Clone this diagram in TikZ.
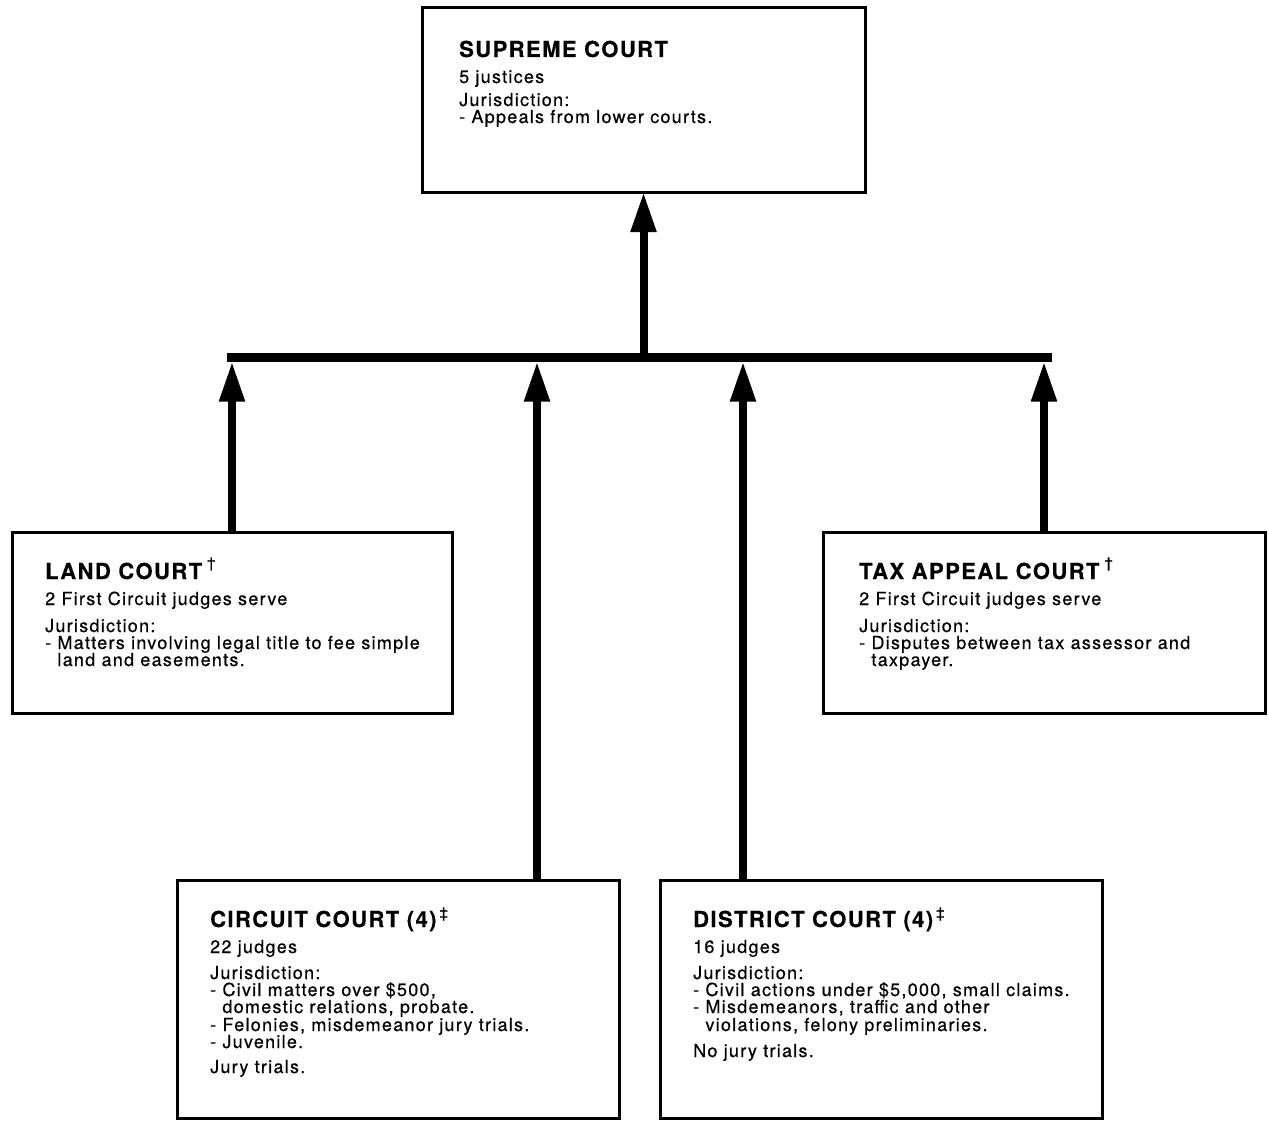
\documentclass[tikz,border=0pt]{standalone}
\usepackage{fontspec}
\setmainfont{TeX Gyre Heros}[LetterSpace=7, FakeBold=0.5, BoldFeatures={LetterSpace=6.5, FakeBold=0.3}]
\usetikzlibrary{arrows.meta}
\newcommand\courtline[4]{\node[txt] (#1) at (#2,#3) {#4};}
\newcommand\courttitle[4]{\node[ttl] (#1) at (#2,#3) {#4};}
\newcommand\dg{\hspace{5pt}\raisebox{11pt}{\fontsize{15}{15}\selectfont\mdseries †}}
\newcommand\ddg{\hspace{3pt}\raisebox{9pt}{\fontsize{15}{15}\selectfont\mdseries ‡}}
\newcommand\ind{\phantom{-}\ }
\tikzset{
  box/.style={draw, line width=3pt, inner sep=0pt, outer sep=0pt},
  txt/.style={anchor=base west, inner sep=0pt, font=\fontsize{18}{18}\selectfont},
  ttl/.style={anchor=base west, inner sep=0pt, font=\fontsize{22}{24}\selectfont\bfseries},
  up/.style={line width=8pt, -{Triangle[length=40pt,width=24pt]}},
  barline/.style={line width=9pt}
}
\begin{document}
\begin{tikzpicture}[x=1pt,y=-1pt]
\useasboundingbox (0,0) rectangle (1269,1121);
% boxes
\node[box, minimum width=443pt, minimum height=184pt] (sup) at (643.5,100) {};
\node[box, minimum width=440pt, minimum height=181pt] (land) at (232,622.5) {};
\node[box, minimum width=442pt, minimum height=181pt] (tax) at (1044,622.5) {};
\node[box, minimum width=442pt, minimum height=238pt] (circ) at (398,999) {};
\node[box, minimum width=442pt, minimum height=238pt] (dist) at (881,999) {};
% bar and connectors
\coordinate (barL) at (227,357);
\coordinate (barR) at (1052,357);
\coordinate (barT) at (643.5,354);
\coordinate (barB) at (643,361.5);
\draw[barline] (barL) -- (barR);
\draw[up] (barT) -- (sup.south);
\draw[up] (land.north) -- (land.north |- barB);
\draw[up] ([xshift=139pt]circ.north) -- ([xshift=139pt]circ.north |- barB);
\draw[up] ([xshift=-138pt]dist.north) -- ([xshift=-138pt]dist.north |- barB);
\draw[up] (tax.north) -- (tax.north |- barB);
% supreme court text
\courttitle{supT}{459}{57}{SUPREME COURT}
\courtline{sup1}{459}{83}{5 justices}
\courtline{sup2}{459}{106}{Jurisdiction:}
\courtline{sup3}{459}{123}{- Appeals from lower courts.}
% land court text
\courttitle{landT}{45}{579}{LAND COURT\dg}
\courtline{land1}{45}{605}{2 First Circuit judges serve}
\courtline{land2}{45}{632}{Jurisdiction:}
\courtline{land3}{45}{649}{- Matters involving legal title to fee simple}
\courtline{land4}{45}{666}{\ind land and easements.}
% tax appeal court text
\courttitle{taxT}{859}{579}{TAX APPEAL COURT\dg}
\courtline{tax1}{859}{605}{2 First Circuit judges serve}
\courtline{tax2}{859}{632}{Jurisdiction:}
\courtline{tax3}{859}{649}{- Disputes between tax assessor and}
\courtline{tax4}{859}{666}{\ind taxpayer.}
% circuit court text
\courttitle{circT}{210}{927}{CIRCUIT COURT (4)\ddg}
\courtline{circ1}{210}{953}{22 judges}
\courtline{circ2}{210}{979}{Jurisdiction:}
\courtline{circ3}{210}{996}{- Civil matters over \$500,}
\courtline{circ4}{210}{1013}{\ind domestic relations, probate.}
\courtline{circ5}{210}{1031}{- Felonies, misdemeanor jury trials.}
\courtline{circ6}{210}{1048}{- Juvenile.}
\courtline{circ7}{210}{1073}{Jury trials.}
% district court text
\courttitle{distT}{693}{927}{DISTRICT COURT (4)\ddg}
\courtline{dist1}{693}{953}{16 judges}
\courtline{dist2}{693}{979}{Jurisdiction:}
\courtline{dist3}{693}{996}{- Civil actions under \$5,000, small claims.}
\courtline{dist4}{693}{1013}{- Misdemeanors, traffic and other}
\courtline{dist5}{693}{1031}{\ind violations, felony preliminaries.}
\courtline{dist6}{693}{1057}{No jury trials.}
\end{tikzpicture}
\end{document}
